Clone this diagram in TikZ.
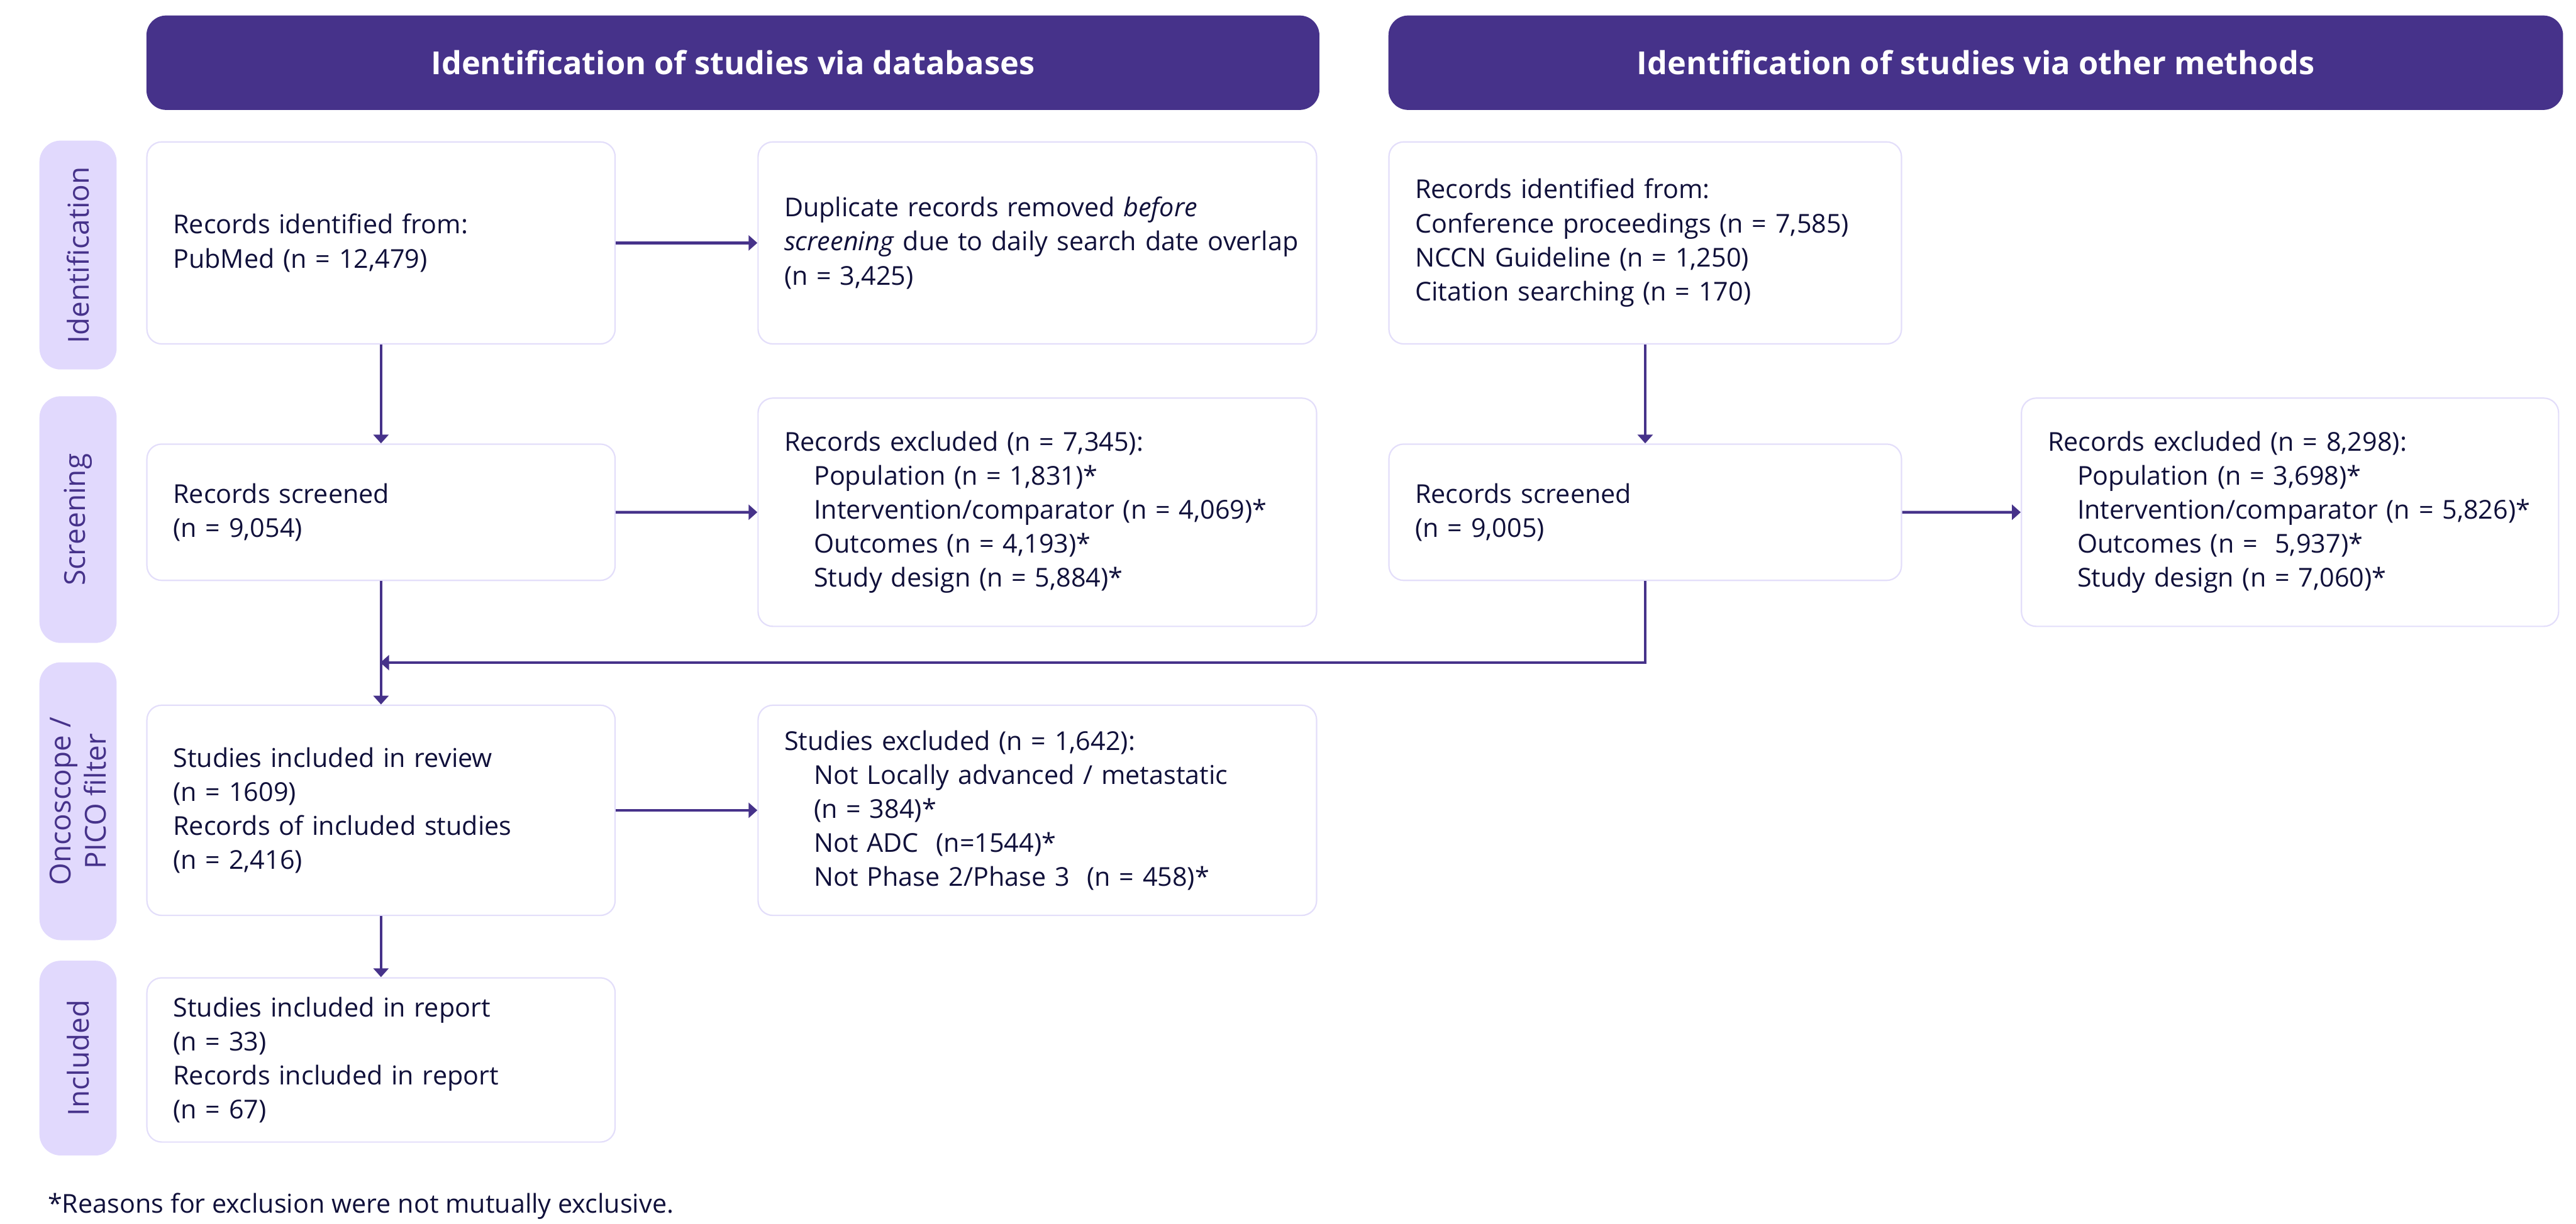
\documentclass[tikz,border=0pt]{standalone}
\usepackage{fontspec}
\setmainfont{Open Sans}
\usetikzlibrary{arrows.meta}
\definecolor{headpurple}{HTML}{46328A}
\definecolor{stagefill}{HTML}{E1D9FD}
\definecolor{boxline}{HTML}{E3DEFA}
\definecolor{boxtext}{HTML}{10103A}
\def\ind{\hspace*{0.9cm}}
\tikzset{
  header/.style={fill=headpurple, rounded corners=0.6cm, text=white, anchor=north west,
    minimum height=2.875cm, inner sep=0pt, font=\fontsize{27.5}{34}\selectfont\bfseries},
  stage/.style={fill=stagefill, rounded corners=0.65cm, text=headpurple, rotate=90,
    align=center, inner sep=0pt, font=\fontsize{25}{31}\selectfont},
  flowbox/.style={draw=boxline, line width=1.2pt, rounded corners=0.45cm, fill=white,
    text=boxtext, align=left, inner xsep=0.8cm, anchor=north west,
    font=\fontsize{22.5}{29.5}\selectfont},
  flowarrow/.style={draw=headpurple, line width=2.5pt, -{Triangle[length=7.6pt,width=13pt]}}
}
\begin{document}
\begin{tikzpicture}[x=0.05cm, y=-0.05cm]
	%%%%% START %%%%%
	\useasboundingbox (0,0) rectangle (1568,745);
	
	\node[header, minimum width=35.7cm] (dbhead) at (89,9.3) {Identification of studies via databases};
	\node[header, minimum width=35.75cm] (otherhead) at (845,9.3) {Identification of studies via other methods};
	
	\node[stage, minimum width=6.97cm, minimum height=2.35cm] (idstage) at (47.5,155.3) {Identification};
	\node[stage, minimum width=7.51cm, minimum height=2.35cm] (scrstage) at (47.5,316.4) {Screening};
	\node[stage, minimum width=8.46cm, minimum height=2.35cm] (picostage) at (47.5,487.9) {Oncoscope /\\PICO filter};
	\node[stage, minimum width=5.93cm, minimum height=2.35cm] (incstage) at (47.5,644.3) {Included};
	
	% databases
	\node[flowbox, minimum width=14.25cm, minimum height=6.15cm, text width=12.65cm] (id1) at (89,86)
		{Records identified from:\\PubMed (n = 12,479)};
	\node[flowbox, minimum width=17cm, minimum height=6.15cm, text width=15.4cm] (dup) at (461,86)
		{Duplicate records removed \textit{before}\\\mbox{\textit{screening} due to daily search date overlap}\\(n = 3,425)};
	\node[flowbox, minimum width=14.25cm, minimum height=4.15cm, text width=12.65cm] (scr1) at (89,270)
		{Records screened\\(n = 9,054)};
	\node[flowbox, minimum width=17cm, minimum height=6.95cm, text width=15.4cm] (exc1) at (461,242)
		{Records excluded (n = 7,345):\\\ind Population (n = 1,831)*\\\ind Intervention/comparator (n = 4,069)*\\\ind Outcomes (n = 4,193)*\\\ind Study design (n = 5,884)*};
	\node[flowbox, minimum width=14.25cm, minimum height=6.4cm, text width=12.65cm] (inc) at (89,429)
		{Studies included in review\\(n = 1609)\\Records of included studies\\(n = 2,416)};
	\node[flowbox, minimum width=17cm, minimum height=6.4cm, text width=15.4cm] (sexc) at (461,429)
		{Studies excluded (n = 1,642):\\\ind Not Locally advanced / metastatic\\\ind (n = 384)*\\\ind Not ADC~ (n=1544)*\\\ind Not Phase 2/Phase 3~ (n = 458)*};
	\node[flowbox, minimum width=14.25cm, minimum height=5cm, text width=12.65cm] (rep) at (89,595)
		{Studies included in report\\(n = 33)\\Records included in report\\(n = 67)};
	
	% other methods
	\node[flowbox, minimum width=15.6cm, minimum height=6.15cm, text width=14cm] (id2) at (845,86)
		{Records identified from:\\Conference proceedings (n = 7,585)\\NCCN Guideline (n = 1,250)\\Citation searching (n = 170)};
	\node[flowbox, minimum width=15.6cm, minimum height=4.15cm, text width=14cm] (scr2) at (845,270)
		{Records screened\\(n = 9,005)};
	\node[flowbox, minimum width=16.35cm, minimum height=6.95cm, text width=14.75cm] (exc2) at (1230,242)
		{Records excluded (n = 8,298):\\\ind Population (n = 3,698)*\\\ind Intervention/comparator (n = 5,826)*\\\ind Outcomes (n =~ 5,937)*\\\ind Study design (n = 7,060)*};
	
	\coordinate (merge) at (231.5,403.5);
	
	\draw[flowarrow] (id1) -- (dup);
	\draw[flowarrow] (id1) -- (scr1);
	\draw[flowarrow] (scr1) -- (exc1);
	\draw[flowarrow] (scr1) -- (inc);
	\draw[flowarrow] (inc) -- (sexc);
	\draw[flowarrow] (inc) -- (rep);
	\draw[flowarrow] (id2) -- (scr2);
	\draw[flowarrow] (scr2) -- (exc2);
	\draw[flowarrow] (scr2.south) |- (merge);
	
	\node[anchor=base west, text=boxtext, inner sep=0pt, font=\fontsize{22.5}{29.5}\selectfont] (note) at (29,738.6)
		{*Reasons for exclusion were not mutually exclusive.};
	%%%%% END %%%%%
\end{tikzpicture}
\end{document}
